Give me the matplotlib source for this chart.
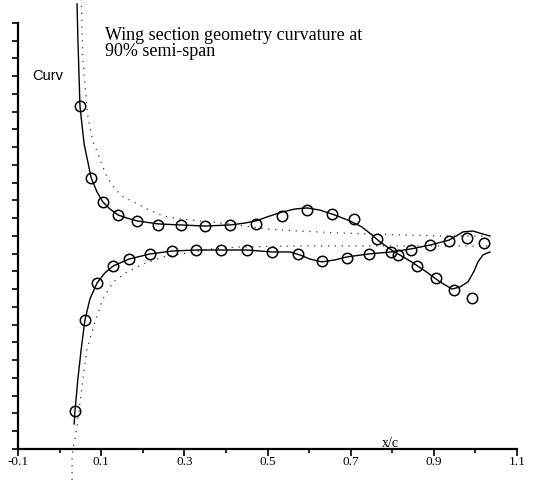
import matplotlib
matplotlib.use("Agg")
import matplotlib.pyplot as plt
import numpy as np

# circles (measured curvature), upper and lower surface
upper_x = [0.049, 0.076, 0.104, 0.140, 0.186, 0.237, 0.292, 0.350, 0.410, 0.472,
           0.535, 0.595, 0.655, 0.708, 0.763, 0.814, 0.860, 0.905, 0.949, 0.992]
upper_y = [7.32, 3.27, 1.92, 1.18, 0.85, 0.62, 0.62, 0.56, 0.62, 0.68,
           1.13, 1.46, 1.24, 0.96, -0.17, -1.07, -1.69, -2.37, -3.04, -3.49]

lower_x = [0.037, 0.061, 0.090, 0.128, 0.167, 0.217, 0.270, 0.328, 0.388, 0.451,
           0.511, 0.573, 0.631, 0.691, 0.744, 0.797, 0.845, 0.891, 0.937, 0.980, 1.021]
lower_y = [-9.86, -4.73, -2.65, -1.69, -1.30, -1.01, -0.85, -0.79, -0.79, -0.79,
           -0.90, -1.01, -1.41, -1.24, -1.01, -0.90, -0.79, -0.51, -0.28, -0.11, -0.39]

# solid lines (fitted section)
fit_up_x = [0.042, 0.044, 0.047, 0.049, 0.059, 0.076, 0.090, 0.104, 0.121, 0.141,
            0.162, 0.186, 0.237, 0.292, 0.350, 0.410, 0.446, 0.472, 0.506, 0.535,
            0.566, 0.595, 0.626, 0.662, 0.698, 0.727, 0.751, 0.771, 0.802, 0.843,
            0.879, 0.915, 0.944, 0.963, 0.982, 0.997, 1.006, 1.018, 1.035]
fit_up_y = [13.07, 11.10, 8.85, 7.32, 5.18, 3.27, 2.48, 1.92, 1.52, 1.18,
            1.01, 0.85, 0.68, 0.62, 0.56, 0.62, 0.73, 0.85, 1.13, 1.35,
            1.52, 1.58, 1.46, 1.18, 0.85, 0.51, 0.06, -0.34, -0.85, -1.41,
            -1.97, -2.59, -2.99, -2.87, -2.59, -1.97, -1.46, -1.07, -0.90]

fit_lo_x = [0.035, 0.037, 0.044, 0.052, 0.061, 0.073, 0.090, 0.109, 0.129, 0.167,
            0.218, 0.270, 0.328, 0.388, 0.451, 0.511, 0.554, 0.578, 0.602, 0.631,
            0.662, 0.691, 0.744, 0.797, 0.845, 0.891, 0.937, 0.970, 0.994, 1.018, 1.035]
fit_lo_y = [-10.59, -9.86, -8.06, -6.37, -4.73, -3.55, -2.65, -2.08, -1.69, -1.30,
            -1.01, -0.85, -0.79, -0.79, -0.79, -0.90, -0.90, -1.07, -1.30, -1.46,
            -1.35, -1.18, -1.01, -0.90, -0.73, -0.51, -0.23, 0.23, 0.28, 0.11, 0.0]

# dotted lines (original section)
orig_up_x = [0.052, 0.054, 0.056, 0.064, 0.068, 0.080, 0.090, 0.097, 0.104, 0.114,
             0.133, 0.153, 0.174, 0.210, 0.249, 0.290, 0.338, 0.410, 0.499, 0.578,
             0.674, 0.819, 0.927, 1.030]
orig_up_y = [13.35, 11.66, 9.97, 7.72, 6.76, 5.30, 4.79, 4.34, 3.89, 3.32,
             2.65, 2.20, 1.97, 1.52, 1.13, 0.96, 0.85, 0.68, 0.39, 0.28,
             0.17, 0.06, 0.0, 0.0]

orig_lo_x = [0.030, 0.030, 0.032, 0.037, 0.042, 0.054, 0.066, 0.085, 0.104, 0.129,
             0.162, 0.201, 0.249, 0.307, 0.362, 0.434, 0.578, 0.819, 1.030]
orig_lo_y = [-13.75, -12.56, -12.0, -11.44, -10.70, -8.45, -6.37, -4.85, -3.55, -2.59,
             -2.03, -1.58, -1.18, -0.96, -0.73, -0.62, -0.56, -0.56, -0.56]

fig = plt.figure(figsize=(5.36, 4.81), dpi=100)
ax = fig.add_axes([18 / 536, 31 / 481, 499 / 536, 450 / 481])

ax.plot(orig_up_x, orig_up_y, color="#333333", lw=0.9, ls=(0, (1, 4.5)), clip_on=False)
ax.plot(orig_lo_x, orig_lo_y, color="#333333", lw=0.9, ls=(0, (1, 4.5)), clip_on=False)
ax.plot(fit_up_x, fit_up_y, color="black", lw=1.0, clip_on=False)
ax.plot(fit_lo_x, fit_lo_y, color="black", lw=1.0, clip_on=False)
ax.plot(upper_x, upper_y, "o", ms=7.5, mfc="none", mec="black", mew=1.1, clip_on=False)
ax.plot(lower_x, lower_y, "o", ms=7.5, mfc="none", mec="black", mew=1.1, clip_on=False)

ax.set_xlim(-0.1, 1.1)
ax.set_ylim(-12, 13.35)

ax.spines["top"].set_visible(False)
ax.spines["right"].set_visible(False)
ax.spines["left"].set_linewidth(1.6)
ax.spines["bottom"].set_linewidth(1.6)
ax.spines["left"].set_bounds(-12, 12)

ax.set_xticks(np.arange(-0.1, 1.11, 0.2))
ax.set_xticklabels(["-0.1", "0.1", "0.3", "0.5", "0.7", "0.9", "1.1"],
                   family="Liberation Serif", fontsize=9.5)
ax.set_xticks(np.arange(0.0, 1.01, 0.2), minor=True)
ax.set_yticks(np.arange(-12, 13, 1))
ax.set_yticklabels([])
ax.tick_params(axis="x", which="major", direction="out", length=5, width=1.2, pad=-1)
ax.tick_params(axis="x", which="minor", direction="out", length=3, width=1.2)
ax.tick_params(axis="y", direction="out", length=4, width=1.2)

fig.text(105 / 536, 1 - 40.5 / 481, "Wing section geometry curvature at",
         family="Liberation Serif", fontsize=13, va="baseline", ha="left")
fig.text(105 / 536, 1 - 56.5 / 481, "90% semi-span",
         family="Liberation Serif", fontsize=13, va="baseline", ha="left")
fig.text(32 / 536, 1 - 80 / 481, "Curv", family="Liberation Sans", fontsize=10.5,
         va="baseline", ha="left")
fig.text(382 / 536, 1 - 447 / 481, "x/c", family="Liberation Serif", fontsize=10,
         va="baseline", ha="left")

fig.savefig("out.png", dpi=100)
